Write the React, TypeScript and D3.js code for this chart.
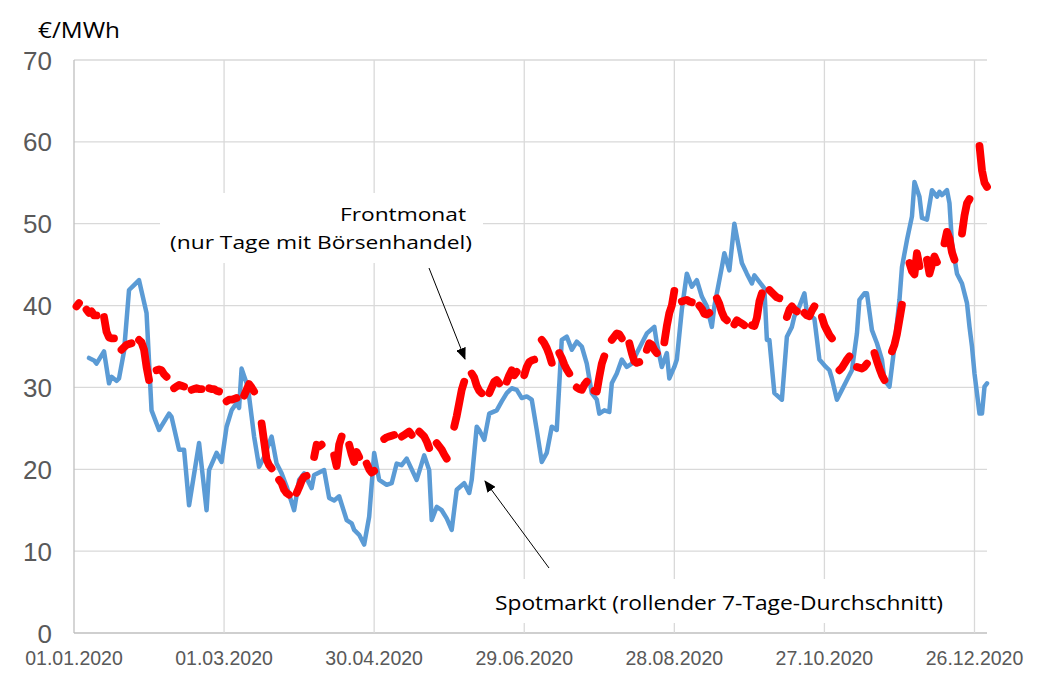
import React from "react";
import * as d3 from "d3";

// ---------- data ----------
const xTickLabels = ["01.01.2020", "01.03.2020", "30.04.2020", "29.06.2020", "28.08.2020", "27.10.2020", "26.12.2020"];
const yTicks = [0, 10, 20, 30, 40, 50, 60, 70];

// Spotmarkt (rolling 7-day average): day of year (0 = 01.01.2020) and €/MWh
const spotDay = [
  6, 8, 9, 12, 14, 15, 17, 18, 20, 22, 24, 26, 29, 31, 34, 38, 39, 42, 44, 46, 50, 53, 54, 57, 59,
  61, 63, 65, 66, 67, 69, 70, 72, 74, 76, 79, 81, 83, 85, 88, 90, 92, 95, 96, 100, 102, 104, 106,
  109, 111, 112, 114, 116, 118, 120, 122, 125, 127, 129, 131, 133, 137, 140, 142, 143, 145, 147,
  149, 151, 153, 156, 158, 159, 161, 162, 164, 166, 169, 171, 173, 175, 177, 179, 181, 183, 185,
  187, 189, 191, 193, 195, 197, 199, 201, 203, 205, 207, 209, 210, 212, 214, 215, 217, 219, 221,
  223, 225, 227, 229, 232, 233, 235, 237, 238, 240, 241, 243, 245, 247, 249, 251, 253, 255, 256,
  259, 260, 262, 264, 265, 267, 269, 271, 272, 274, 276, 277, 278, 280, 283, 285, 287, 288, 290,
  292, 293, 296, 298, 300, 302, 303, 305, 307, 309, 311, 313, 314, 316, 317, 319, 321, 323, 324,
  326, 328, 330, 331, 333, 335, 336, 338, 339, 341, 343, 345, 346, 347, 349, 350, 351, 353, 355,
  357, 358, 359, 360, 362, 363, 364, 365,
];
const spotValue = [
  33.6, 33.3, 32.9, 34.4, 30.5, 31.3, 30.8, 31.1, 34.4, 41.9, 42.5, 43.1, 39.1, 27.2, 24.8, 26.8, 26.4, 22.4, 22.4, 15.6, 23.2, 15.0, 19.9, 22.0, 20.9,
  25.2, 27.2, 28.1, 27.5, 32.3, 30.5, 28.9, 24.0, 20.3, 21.5, 24.0, 20.7, 19.5, 17.9, 15.0, 18.7, 19.5, 17.7, 19.3, 19.9, 16.5, 16.2, 16.7,
  13.8, 13.4, 12.6, 12.0, 10.8, 14.2, 22.0, 18.7, 18.1, 18.3, 20.7, 20.5, 21.3, 18.7, 21.7, 19.9, 13.8, 15.4, 15.0,
  14.0, 12.6, 17.5, 18.3, 17.1, 18.7, 25.2, 24.8, 23.6, 26.8, 27.2, 28.3, 29.3, 29.9, 29.7, 28.7, 28.9, 28.5, 24.8,
  20.9, 22.0, 25.2, 24.8, 35.8, 36.2, 34.6, 35.6, 35.0, 32.9, 29.3, 28.5, 26.8, 27.2, 27.0, 30.5, 31.7, 33.4, 32.5,
  32.9, 34.2, 35.4, 36.6, 37.4, 35.4, 32.5, 34.2, 31.1, 32.5, 33.4, 39.5, 43.9, 42.3, 43.1, 41.1, 39.9, 37.4, 39.9,
  44.7, 46.4, 44.3, 50.0, 48.4, 45.2, 43.9, 42.7, 43.7, 42.9, 42.1, 35.8, 35.8, 29.3, 28.5, 36.2, 37.4, 38.7, 39.9,
  41.5, 39.1, 38.4, 33.4, 32.7, 32.1, 31.1, 28.5, 29.7, 30.9, 32.1, 36.6, 40.7, 41.5, 41.5, 37.0, 35.4, 33.4, 30.9,
  30.1, 35.0, 40.7, 44.7, 48.0, 50.9, 55.1, 53.3, 50.7, 50.5, 54.1, 53.3, 53.9, 53.5, 54.1, 52.5, 47.6, 43.9, 42.7,
  40.3, 37.4, 35.0, 31.7, 26.8, 26.8, 30.1, 30.5,
];

// Frontmonat (only trading days): first trading day of each week and the week's values
const frontWeekStart = [
  "02.01", "06.01", "13.01", "20.01", "27.01", "03.02", "10.02", "17.02", "24.02", "02.03", "09.03",
  "16.03", "23.03", "30.03", "06.04", "14.04", "20.04", "27.04", "04.05", "11.05", "18.05", "25.05",
  "01.06", "08.06", "15.06", "22.06", "29.06", "06.07", "13.07", "20.07", "27.07", "03.08", "10.08",
  "17.08", "24.08", "31.08", "07.09", "14.09", "21.09", "28.09", "05.10", "12.10", "19.10", "26.10",
  "02.11", "09.11", "16.11", "23.11", "30.11", "07.12", "14.12", "21.12", "28.12",
];
const frontWeekValues = [
  [39.9, 40.3],
  [39.5, 39.1, 39.3, 38.8, 38.8],
  [38.6, 36.8, 36.1, 36.0, 36.0],
  [34.6, 34.9, 35.2, 35.3, 35.4],
  [35.8, 35.5, 34.6, 32.5, 30.9],
  [32.1, 32.2, 32.1, 31.6, 31.3],
  [29.9, 30.1, 30.3, 30.2, 30.1],
  [29.7, 29.8, 29.9, 29.8, 29.8],
  [29.9, 29.8, 29.8, 29.6, 29.5],
  [28.3, 28.5, 28.5, 28.6, 28.7],
  [29.0, 29.7, 30.4, 30.0, 29.5],
  [25.6, 23.4, 21.2, 20.5, 20.1],
  [18.7, 18.3, 17.5, 17.1, 16.9],
  [17.1, 17.8, 18.6, 19.1, 19.2],
  [21.5, 23.0, 22.8, 23.0],
  [21.7, 20.4, 23.0, 24.0],
  [23.0, 21.8, 20.9, 22.1, 21.5],
  [20.7, 20.0, 19.6, 19.8],
  [23.7, 23.9, 24.0, 24.1, 24.2],
  [24.0, 24.2, 24.4, 24.6, 24.2],
  [24.6, 24.3, 24.0, 23.4, 22.6],
  [23.2, 22.8, 22.4, 21.8, 21.3],
  [25.2, 26.5, 28.1, 29.7, 30.7],
  [31.7, 31.2, 30.2, 29.6, 29.3],
  [29.3, 30.0, 30.7, 30.9, 30.5],
  [30.7, 31.5, 32.1, 31.5, 31.9],
  [31.5, 32.5, 33.1, 33.3, 33.4],
  [35.8, 35.4, 34.8, 34.0, 33.0],
  [34.2, 33.6, 32.8, 32.2, 31.7],
  [30.0, 29.8, 29.7, 30.3, 30.7],
  [29.6, 29.5, 31.3, 32.9, 33.8],
  [35.8, 36.2, 36.6, 36.5, 36.0],
  [35.4, 34.2, 33.2, 33.0, 33.1],
  [34.6, 35.4, 35.2, 34.6, 34.2],
  [35.5, 37.5, 39.1, 40.0, 41.8],
  [40.5, 40.6, 40.7, 40.5, 40.4],
  [40.0, 39.6, 39.0, 38.9, 39.1],
  [40.9, 40.2, 39.2, 38.5, 38.2],
  [37.7, 38.2, 38.0, 37.8, 37.6],
  [37.6, 37.5, 38.5, 40.5, 41.5],
  [41.9, 41.6, 41.3, 41.0, 40.9],
  [38.6, 39.5, 39.9, 39.5, 39.3],
  [39.1, 38.8, 38.7, 39.4, 39.9],
  [38.6, 37.6, 37.0, 36.4, 36.0],
  [32.1, 32.4, 32.9, 33.4, 33.8],
  [32.5, 32.4, 32.3, 32.5, 32.9],
  [34.2, 33.2, 32.3, 31.5, 30.9],
  [34.4, 35.2, 36.5, 38.3, 40.1],
  [45.2, 44.2, 43.8, 46.4, 44.8],
  [45.6, 43.9, 45.0, 46.0, 45.3],
  [47.6, 49.0, 48.2, 46.5, 45.6],
  [48.8, 51.0, 52.5, 53.0],
  [59.5, 56.5, 55.0, 54.5],
];

const unitLabel = "€/MWh";
const frontLabel = ["Frontmonat", "(nur Tage mit Börsenhandel)"];
const spotLabel = "Spotmarkt (rollender 7-Tage-Durchschnitt)";

// ---------- chart ----------
const W = 1048;
const H = 692;
const PL = 74, PR = 987, PT = 60, PB = 633;

export default function App() {
  const start = new Date(2020, 0, 1);
  const x = d3.scaleTime().domain([start, new Date(2020, 11, 31)]).range([PL, PR]);
  const y = d3.scaleLinear().domain([0, 70]).range([PB, PT]);
  const parseFull = d3.timeParse("%d.%m.%Y");
  const parseShort = (s: string) => d3.timeParse("%d.%m.%Y")(s + ".2020") as Date;

  const spotPts: [Date, number][] = spotDay.map((d, i) => [d3.timeDay.offset(start, d), spotValue[i]]);
  const line = d3
    .line<[Date, number]>()
    .x((d) => x(d[0]))
    .y((d) => y(d[1]));

  const frontPaths = frontWeekStart.map((s, wi) => {
    const d0 = parseShort(s);
    const pts: [Date, number][] = frontWeekValues[wi].map((v, i) => [d3.timeDay.offset(d0, i), v]);
    return line(pts) as string;
  });

  const tickDates = xTickLabels.map((l) => parseFull(l) as Date);

  const axisFont = "'Liberation Sans', Arial, sans-serif";
  const textFont = "'Open Sans', 'Noto Sans', sans-serif";

  return (
    <svg
      width={W}
      height={H}
      style={{ position: "absolute", left: 0, top: 0, background: "#fff" }}
      xmlns="http://www.w3.org/2000/svg"
    >
      <defs>
        <marker id="arrowhead" markerUnits="userSpaceOnUse" markerWidth="12" markerHeight="10" refX="11" refY="5" orient="auto">
          <path d="M0,0 L12,5 L0,10 Z" fill="#000" />
        </marker>
      </defs>
      <rect x={0} y={0} width={W} height={H} fill="#fff" />

      {/* horizontal gridlines */}
      {yTicks.map((t) => (
        <line key={"h" + t} x1={PL} x2={PR} y1={y(t)} y2={y(t)} stroke={t === 0 ? "#BFBFBF" : "#D9D9D9"} strokeWidth={1.3} />
      ))}
      {/* vertical gridlines */}
      {tickDates.map((d, i) => (
        <line key={"v" + i} x1={x(d)} x2={x(d)} y1={PT} y2={PB} stroke={i === 0 ? "#BFBFBF" : "#D9D9D9"} strokeWidth={1.3} />
      ))}

      {/* annotation text boxes (white background) */}
      <rect x={160} y={193} width={323} height={70} fill="#fff" />
      <rect x={481} y={579} width={476} height={44} fill="#fff" />

      {/* y tick labels */}
      {yTicks.map((t) => (
        <text key={"yl" + t} x={52} y={y(t) + 9.5} textAnchor="end" fontFamily={axisFont} fontSize={26} fill="#595959">
          {t}
        </text>
      ))}
      {/* x tick labels */}
      {tickDates.map((d, i) => (
        <text key={"xl" + i} x={x(d)} y={665} textAnchor="middle" fontFamily={axisFont} fontSize={19.5} fill="#595959">
          {xTickLabels[i]}
        </text>
      ))}

      {/* unit */}
      <text x={38} y={38} fontFamily={textFont} fontSize={21} fill="#000" textLength={82} lengthAdjust="spacingAndGlyphs">
        {unitLabel}
      </text>

      {/* Spotmarkt line */}
      <path d={line(spotPts) as string} fill="none" stroke="#5B9BD5" strokeWidth={4.5} strokeLinejoin="round" strokeLinecap="round" />

      {/* Frontmonat segments */}
      {frontPaths.map((p, i) => (
        <path key={"f" + i} d={p} fill="none" stroke="#FF0000" strokeWidth={7.8} strokeLinejoin="round" strokeLinecap="round" />
      ))}

      {/* annotations */}
      <text x={466} y={221} textAnchor="end" fontFamily={textFont} fontSize={19} fill="#000" textLength={126} lengthAdjust="spacingAndGlyphs">
        {frontLabel[0]}
      </text>
      <text x={472} y={249} textAnchor="end" fontFamily={textFont} fontSize={19} fill="#000" textLength={302} lengthAdjust="spacingAndGlyphs">
        {frontLabel[1]}
      </text>
      <text x={495} y={610} fontFamily={textFont} fontSize={19.5} fill="#000" textLength={448} lengthAdjust="spacingAndGlyphs">
        {spotLabel}
      </text>

      <line x1={429} y1={268} x2={465} y2={359} stroke="#000" strokeWidth={1} markerEnd="url(#arrowhead)" />
      <line x1={549} y1={568} x2={485} y2={481} stroke="#000" strokeWidth={1} markerEnd="url(#arrowhead)" />
    </svg>
  );
}
